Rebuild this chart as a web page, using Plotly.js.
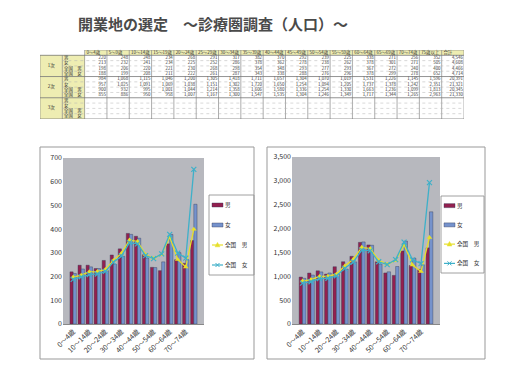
<!DOCTYPE html>
<html><head><meta charset="utf-8">
<script src="https://cdn.plot.ly/plotly-3.0.1.min.js"></script>
<style>html,body{margin:0;padding:0;background:#fff}#c{width:520px;height:375px}</style>
</head><body><div id="c"></div>
<script>
const ages = ["0～4歳","5～9歳","10～14歳","15～19歳","20～24歳","25～29歳","30～34歳","35～39歳","40～44歳","45～49歳","50～54歳","55～59歳","60～64歳","65～69歳","70～74歳","75歳以上"];
const tickAges = ["0～4歳","10～14歳","20～24歳","30～34歳","40～44歳","50～54歳","60～64歳","70～74歳"];
// 1次診療圏
const m1  = [220,248,248,234,268,291,317,382,370,292,239,225,338,271,256,352];
const f1  = [213,232,241,234,225,252,286,378,362,278,238,262,378,301,271,505];
const nm1 = [198,206,220,221,230,268,298,354,348,293,277,293,367,272,240,400];
const nf1 = [188,199,208,211,222,261,287,343,338,288,276,296,378,299,278,652];
const tot1 = [4546,4608,4466,4714];
// 2次診療圏
const m2  = [984,1068,1115,1046,1200,1305,1418,1711,1657,1304,1070,1019,1531,1226,1145,1596];
const f2  = [957,1025,1091,1069,1038,1151,1302,1720,1650,1254,1094,1205,1737,1378,1242,2351];
const nm2 = [900,932,995,1001,1044,1214,1358,1606,1580,1336,1254,1330,1663,1236,1099,1813];
const nf2 = [855,886,950,958,1007,1167,1300,1547,1535,1304,1246,1349,1717,1344,1265,2963];
const tot2 = [20391,21321,20345,21330];
const headers = ages.concat(["合計"]);
const areaLabels = ["1次","2次","3次"];
const rowLabels = ["男","女","全国　男","全国　女"];
const seriesNames = ["男","女","全国　男","全国　女"];

const W=520,H=375;
const px=x=>x/W, py=y=>1-y/H;
const FONT="Noto Sans CJK JP, Noto Sans, sans-serif";
const cM="#93204f", cF="#7592cc", cNM="#e6df2a", cNF="#3eb0c9";
const traces=[], shapes=[], annotations=[];

// ---------- table (subplot 3, one unit per column / row) ----------
const nCols = 2 + headers.length, nRows = 1 + areaLabels.length*rowLabels.length;
const fmt=v=>v.toLocaleString("en-US");
const z=[];
for(let r=0;r<nRows;r++){const row=[];for(let c=0;c<nCols;c++){row.push(r===0?(c<2?0:1):(c<2?1:0));}z.push(row);}
traces.push({type:"heatmap",z,xaxis:"x3",yaxis:"y3",colorscale:[[0,"#ffffff"],[1,"#eeedb2"]],zmin:0,zmax:1,showscale:false,hoverinfo:"skip"});
const tx=[],ty=[],tt=[],tp=[];
function addText(x,y,t,pos){tx.push(x);ty.push(y);tt.push(t);tp.push(pos);}
headers.forEach((h,i)=>addText(i+2-0.42,0,h,"middle right"));
const rows1=[m1,f1,nm1,nf1], rows2=[m2,f2,nm2,nf2], tots=[tot1,tot2];
areaLabels.forEach((a,s)=>{
  addText(0,1+s*4+1.5,a,"middle center");
  rowLabels.forEach((lb,i)=>{
    const r=1+s*4+i;
    addText(1-0.42,r,lb,"middle right");
    if(s<2){
      const rows=s===0?rows1:rows2;
      rows[i].forEach((v,c)=>addText(c+2+0.45,r,fmt(v),"middle left"));
      addText(headers.length+1+0.45,r,fmt(tots[s][i]),"middle left");
    }
  });
});
traces.push({type:"scatter",mode:"text",x:tx,y:ty,text:tt,textposition:tp,xaxis:"x3",yaxis:"y3",
  textfont:{family:FONT,size:4.4,color:"#333"},hoverinfo:"skip",showlegend:false,cliponaxis:false});
// table lines
for(let c=0;c<=nCols;c++){
  const top=c<2?0.5:-0.5;
  shapes.push({type:"line",xref:"x3",yref:"y3",x0:c-0.5,x1:c-0.5,y0:top,y1:nRows-0.5,line:{color:"#8a8a8a",width:0.7}});
}
shapes.push({type:"line",xref:"x3",yref:"y3",x0:1.5,x1:nCols-0.5,y0:-0.5,y1:-0.5,line:{color:"#8a8a8a",width:0.7}});
for(let r=1;r<=nRows;r++){
  const solid=((r-1)%4===0);
  shapes.push({type:"line",xref:"x3",yref:"y3",x0:solid?-0.5:0.5,x1:nCols-0.5,y0:r-0.5,y1:r-0.5,
    line:{color:solid?"#777":"#b0b0b0",width:solid?0.8:0.5,dash:solid?"solid":"dot"}});
}

// ---------- charts ----------
function addChart(ax,m,f,nm,nf){
  const xa=ax==1?"x":"x2", ya=ax==1?"y":"y2";
  const mk=(name,y,color)=>({type:"bar",name,x:ages,y,xaxis:xa,yaxis:ya,showlegend:false,
    marker:{color,line:{color:"#333a55",width:0.4}}});
  traces.push(mk(seriesNames[0],m,cM));
  traces.push(mk(seriesNames[1],f,cF));
  traces.push({type:"scatter",mode:"lines+markers",name:seriesNames[2],x:ages,y:nm,xaxis:xa,yaxis:ya,showlegend:false,
    line:{color:cNM,width:1.3},marker:{symbol:"triangle-up",size:5,color:cNM}});
  traces.push({type:"scatter",mode:"lines+markers",name:seriesNames[3],x:ages,y:nf,xaxis:xa,yaxis:ya,showlegend:false,
    line:{color:cNF,width:1.3},marker:{symbol:"x-thin",size:5,color:cNF,line:{color:cNF,width:1.2}}});
}
addChart(1,m1,f1,nm1,nf1);
addChart(2,m2,f2,nm2,nf2);

// custom legend box (pixel layout converted to paper units)
function legend(x0,y0,x1,y1){
  shapes.push({type:"rect",xref:"paper",yref:"paper",x0:px(x0),x1:px(x1),y0:py(y1),y1:py(y0),fillcolor:"#fff",line:{color:"#888",width:0.8}});
  const step=(y1-y0)/4;
  seriesNames.forEach((nm,i)=>{
    const cy=y0+step*(i+0.5), sx0=x0+3, sx1=x0+14, cx=(sx0+sx1)/2;
    if(i<2){
      shapes.push({type:"rect",xref:"paper",yref:"paper",x0:px(sx0),x1:px(sx1),y0:py(cy+2),y1:py(cy-2),
        fillcolor:i===0?cM:cF,line:{color:"#333a55",width:0.4}});
    } else {
      const col=i===2?cNM:cNF;
      shapes.push({type:"line",xref:"paper",yref:"paper",x0:px(sx0),x1:px(sx1),y0:py(cy),y1:py(cy),line:{color:col,width:1.2}});
      if(i===2){
        shapes.push({type:"path",xref:"paper",yref:"paper",
          path:`M${px(cx)},${py(cy-2.6)} L${px(cx+2.4)},${py(cy+1.8)} L${px(cx-2.4)},${py(cy+1.8)} Z`,fillcolor:col,line:{color:col,width:0.5}});
      } else {
        shapes.push({type:"line",xref:"paper",yref:"paper",x0:px(cx-2),x1:px(cx+2),y0:py(cy-2),y1:py(cy+2),line:{color:col,width:1}});
        shapes.push({type:"line",xref:"paper",yref:"paper",x0:px(cx-2),x1:px(cx+2),y0:py(cy+2),y1:py(cy-2),line:{color:col,width:1}});
      }
    }
    annotations.push({xref:"paper",yref:"paper",x:px(sx1+1),y:py(cy),xanchor:"left",yanchor:"middle",showarrow:false,
      borderpad:0,text:nm,font:{family:FONT,size:5.6,color:"#333"}});
  });
}
legend(209,195,254,275);
legend(441,196,484,273);
shapes.push({type:"rect",xref:"paper",yref:"paper",x0:px(40),x1:px(254),y0:py(359),y1:py(147),line:{color:"#999",width:1}});
shapes.push({type:"rect",xref:"paper",yref:"paper",x0:px(267),x1:px(485),y0:py(359),y1:py(147),line:{color:"#999",width:1}});

const xcommon={type:"category",tickangle:-45,tickmode:"array",tickvals:tickAges,ticktext:tickAges,
  tickfont:{family:FONT,size:7,color:"#333"},showgrid:false,showline:true,linecolor:"#888",ticks:"",automargin:false};
const ycommon={showgrid:false,tickfont:{family:FONT,size:7,color:"#333"},showline:false,zeroline:false,ticks:"",automargin:false};
const layout={width:W,height:H,margin:{l:0,r:0,t:0,b:0},paper_bgcolor:"#fff",plot_bgcolor:"#b7b8be",
  barmode:"group",bargap:0.2,bargroupgap:0,showlegend:false,
  title:{text:"開業地の選定　～診療圏調査（人口）～",x:px(78),xanchor:"left",y:py(25),yanchor:"middle",
    font:{family:FONT,size:15,color:"#4a4a4a",weight:"bold"}},
  xaxis:Object.assign({domain:[px(63),px(204)],anchor:"y"},xcommon),
  yaxis:Object.assign({domain:[py(324),py(158)],anchor:"x",range:[0,700],dtick:100},ycommon),
  xaxis2:Object.assign({domain:[px(292),px(440)],anchor:"y2"},xcommon),
  yaxis2:Object.assign({domain:[py(324),py(157)],anchor:"x2",range:[0,3500],dtick:500,tickformat:","},ycommon),
  xaxis3:{domain:[px(40),px(464)],anchor:"y3",range:[-0.5,nCols-0.5],visible:false,fixedrange:true},
  yaxis3:{domain:[py(119),py(50)],anchor:"x3",range:[nRows-0.5,-0.5],visible:false,fixedrange:true},
  shapes,annotations
};
Plotly.newPlot("c",traces,layout,{staticPlot:true});
</script></body></html>
